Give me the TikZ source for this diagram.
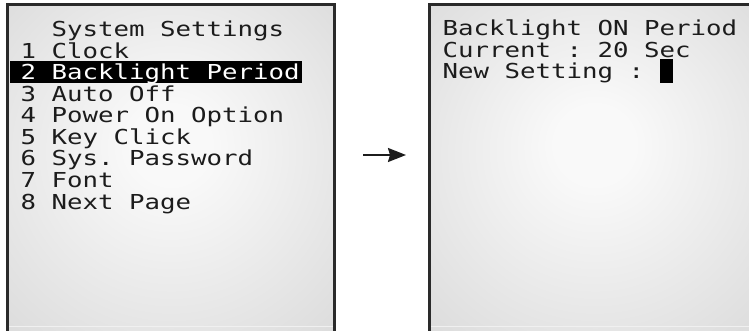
\documentclass[tikz,border=0pt]{standalone}
\usepackage{fontspec}
\newfontfamily\lcdfont{DejaVu Sans Mono}[FakeStretch=1.25]
\usetikzlibrary{arrows.meta}
\definecolor{lcdc}{HTML}{F9F9F9}
\definecolor{lcde}{HTML}{CFCFCF}
\definecolor{lcdtxt}{HTML}{1C1C1C}
\definecolor{lcdborder}{HTML}{2A2A2A}
\pgfdeclareradialshading{lcdbg}{\pgfpoint{0bp}{4bp}}{color(0bp)=(lcdc); color(6bp)=(lcdc); color(50bp)=(lcde)}
\begin{document}
\begin{tikzpicture}[x=1pt,y=-1pt,
  lcdtext/.style={anchor=base west, inner sep=0pt, text=lcdtxt,
    font=\lcdfont\fontsize{20.6}{21.5}\selectfont\frenchspacing},
  frame/.style={draw=lcdborder, line width=3pt},
  bottomline/.style={draw=white!94!black, line width=1pt},
  arrowline/.style={draw=lcdtxt, line width=2pt, -{Stealth[length=18pt,width=14pt,inset=2pt]}}]
\useasboundingbox (0,0) rectangle (749,331);
% screens background
\fill[white] (0,0) rectangle (749,331);
\shade[shading=lcdbg] (7,4.5) rectangle (334.5,331);
\shade[shading=lcdbg] (429.5,4.5) rectangle (760,331);
\draw[bottomline] (8.5,326) -- (333,326);
\draw[bottomline] (431,326) -- (749,326);
% frames
\draw[frame] (7,333) -- (7,4.5) -- (334.5,4.5) -- (334.5,333);
\draw[frame] (429.5,333) -- (429.5,4.5) -- (752,4.5);
% highlight bar
\fill[black] (10,61) rectangle (302,83);
% left screen text
\node[lcdtext] (l0) at (51.5,37) {System Settings};
\node[lcdtext] (l1) at (20.5,58.5) {1 Clock};
\node[lcdtext, text=white] (l2) at (20.5,80) {2 Backlight Period};
\node[lcdtext] (l3) at (20.5,101.5) {3 Auto Off};
\node[lcdtext] (l4) at (20.5,123) {4 Power On Option};
\node[lcdtext] (l5) at (20.5,144.5) {5 Key Click};
\node[lcdtext] (l6) at (20.5,166) {6 Sys. Password};
\node[lcdtext] (l7) at (20.5,187.5) {7 Font};
\node[lcdtext] (l8) at (20.5,209) {8 Next Page};
% right screen text
\node[lcdtext] (r1) at (442.5,36) {Backlight ON Period};
\node[lcdtext] (r2) at (442.5,57.5) {Current : 20 Sec};
\node[lcdtext] (r3) at (442.5,79) {New Setting :};
\fill[black] (660,59) rectangle (673,83);
% arrow
\coordinate (a1) at (363,155);
\coordinate (a2) at (406,155);
\draw[arrowline] (a1) -- (a2);
\end{tikzpicture}
\end{document}
